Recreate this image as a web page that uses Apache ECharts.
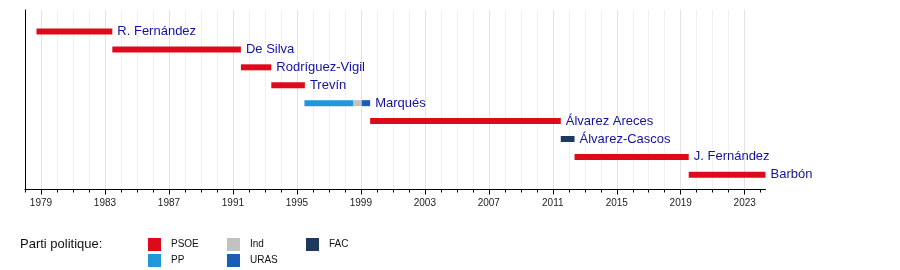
<!DOCTYPE html>
<html>
<head>
<meta charset="utf-8">
<script src="https://cdn.jsdelivr.net/npm/echarts@6/dist/echarts.min.js"></script>
<style>
html,body{margin:0;padding:0;background:#fff;}
#chart{width:900px;height:270px;}
</style>
</head>
<body>
<div id="chart"></div>
<script>
// ---- data ----
const people = ['R. Fernández','De Silva','Rodríguez-Vigil','Trevín','Marqués','Álvarez Areces','Álvarez-Cascos','J. Fernández','Barbón'];
const parties = ['PSOE','PP','Ind','URAS','FAC'];
const termPerson = ['R. Fernández','De Silva','Rodríguez-Vigil','Trevín','Marqués','Marqués','Marqués','Álvarez Areces','Álvarez-Cascos','J. Fernández','Barbón'];
const termParty  = ['PSOE','PSOE','PSOE','PSOE','PP','Ind','URAS','PSOE','FAC','PSOE','PSOE'];
const termStart  = [1978.72, 1983.46, 1991.5, 1993.4, 1995.47, 1998.54, 1999.06, 1999.58, 2011.5, 2012.36, 2019.5];
const termEnd    = [1983.46, 1991.5, 1993.4, 1995.5, 1998.54, 1999.06, 1999.58, 2011.5, 2012.36, 2019.5, 2024.3];
const majorTicks = [1979, 1983, 1987, 1991, 1995, 1999, 2003, 2007, 2011, 2015, 2019, 2023];
const minorTicks = [1978,1979,1980,1981,1982,1983,1984,1985,1986,1987,1988,1989,1990,1991,1992,1993,1994,1995,1996,1997,1998,1999,2000,2001,2002,2003,2004,2005,2006,2007,2008,2009,2010,2011,2012,2013,2014,2015,2016,2017,2018,2019,2020,2021,2022,2023,2024];
const axisMin = 1978, axisMax = 2024.3;
const legendTitle = 'Parti politique:';

// ---- styles ----
const partyColor = {PSOE:'#DE0A1C', PP:'#2196D8', Ind:'#C2C2C2', URAS:'#1A5CB6', FAC:'#1D3A5E'};
const nameColor = '#1212a0';
const FONT = 'Liberation Sans, Arial, sans-serif';

// last segment of each person carries the label
const lastIdx = {};
termPerson.forEach((p, i) => { if (lastIdx[p] === undefined || termEnd[i] > termEnd[lastIdx[p]]) lastIdx[p] = i; });

const series = parties.map(party => {
  const idx = [];
  termParty.forEach((pt, i) => { if (pt === party) idx.push(i); });
  return {
    type: 'custom',
    name: party,
    clip: false,
    itemStyle: {color: partyColor[party]},
    data: idx.map(i => [termStart[i], termEnd[i], people.indexOf(termPerson[i])]),
    renderItem: function (params, api) {
      const i = idx[params.dataIndex];
      const p0 = api.coord([api.value(0), api.value(2)]);
      const p1 = api.coord([api.value(1), api.value(2)]);
      const h = 6;
      const children = [{
        type: 'rect',
        shape: {x: p0[0], y: p0[1] - h / 2, width: p1[0] - p0[0], height: h},
        style: {fill: partyColor[party]}
      }];
      if (lastIdx[termPerson[i]] === i) {
        children.push({
          type: 'text',
          style: {
            text: termPerson[i], x: p1[0] + 5, y: p1[1],
            fill: nameColor, fontSize: 13, fontFamily: FONT,
            verticalAlign: 'middle', align: 'left'
          }
        });
      }
      return {type: 'group', children: children};
    }
  };
});

const legendBase = {
  orient: 'vertical', top: 238, itemWidth: 13, itemHeight: 13, itemGap: 3,
  padding: 0, icon: 'rect', selectedMode: false,
  textStyle: {fontSize: 10, fontFamily: FONT, color: '#111', padding: [0, 0, 0, 5]}
};

const option = {
  animation: false,
  backgroundColor: '#fff',
  title: {text: legendTitle, left: 20, top: 238, padding: 0,
    textStyle: {fontSize: 13, fontWeight: 'normal', fontFamily: FONT, color: '#111'}},
  legend: [
    Object.assign({}, legendBase, {left: 148, data: ['PSOE', 'PP']}),
    Object.assign({}, legendBase, {left: 227, data: ['Ind', 'URAS']}),
    Object.assign({}, legendBase, {left: 306, data: ['FAC']})
  ],
  grid: {left: 25, right: 134.5, top: 10, bottom: 80.5, containLabel: false},
  xAxis: [{
    type: 'value', min: axisMin, max: axisMax, interval: 1, position: 'bottom',
    axisLine: {show: true, onZero: false, lineStyle: {color: '#000', width: 1}},
    axisTick: {show: true, length: 3, customValues: minorTicks, lineStyle: {color: '#000'}},
    axisLabel: {show: false},
    splitLine: {show: true, showMaxLine: false, lineStyle: {color: ['#f1f1f1', '#e2e2e2', '#f1f1f1', '#f1f1f1'], width: 1}}
  }, {
    type: 'value', min: axisMin, max: axisMax, interval: 1, position: 'bottom',
    axisLine: {show: false, onZero: false},
    axisTick: {show: true, length: 5, customValues: majorTicks, lineStyle: {color: '#000'}},
    axisLabel: {show: true, customValues: majorTicks, margin: 9, fontSize: 10, fontFamily: FONT, color: '#222',
      formatter: v => String(v)},
    splitLine: {show: false}
  }],
  yAxis: {
    type: 'value', inverse: true, min: -1.2, max: 8.82,
    axisLine: {show: true, onZero: false, lineStyle: {color: '#000', width: 1}},
    axisTick: {show: false}, axisLabel: {show: false}, splitLine: {show: false}
  },
  series: series
};

const chart = echarts.init(document.getElementById('chart'), null, {renderer: 'canvas'});
chart.setOption(option);
</script>
</body>
</html>
